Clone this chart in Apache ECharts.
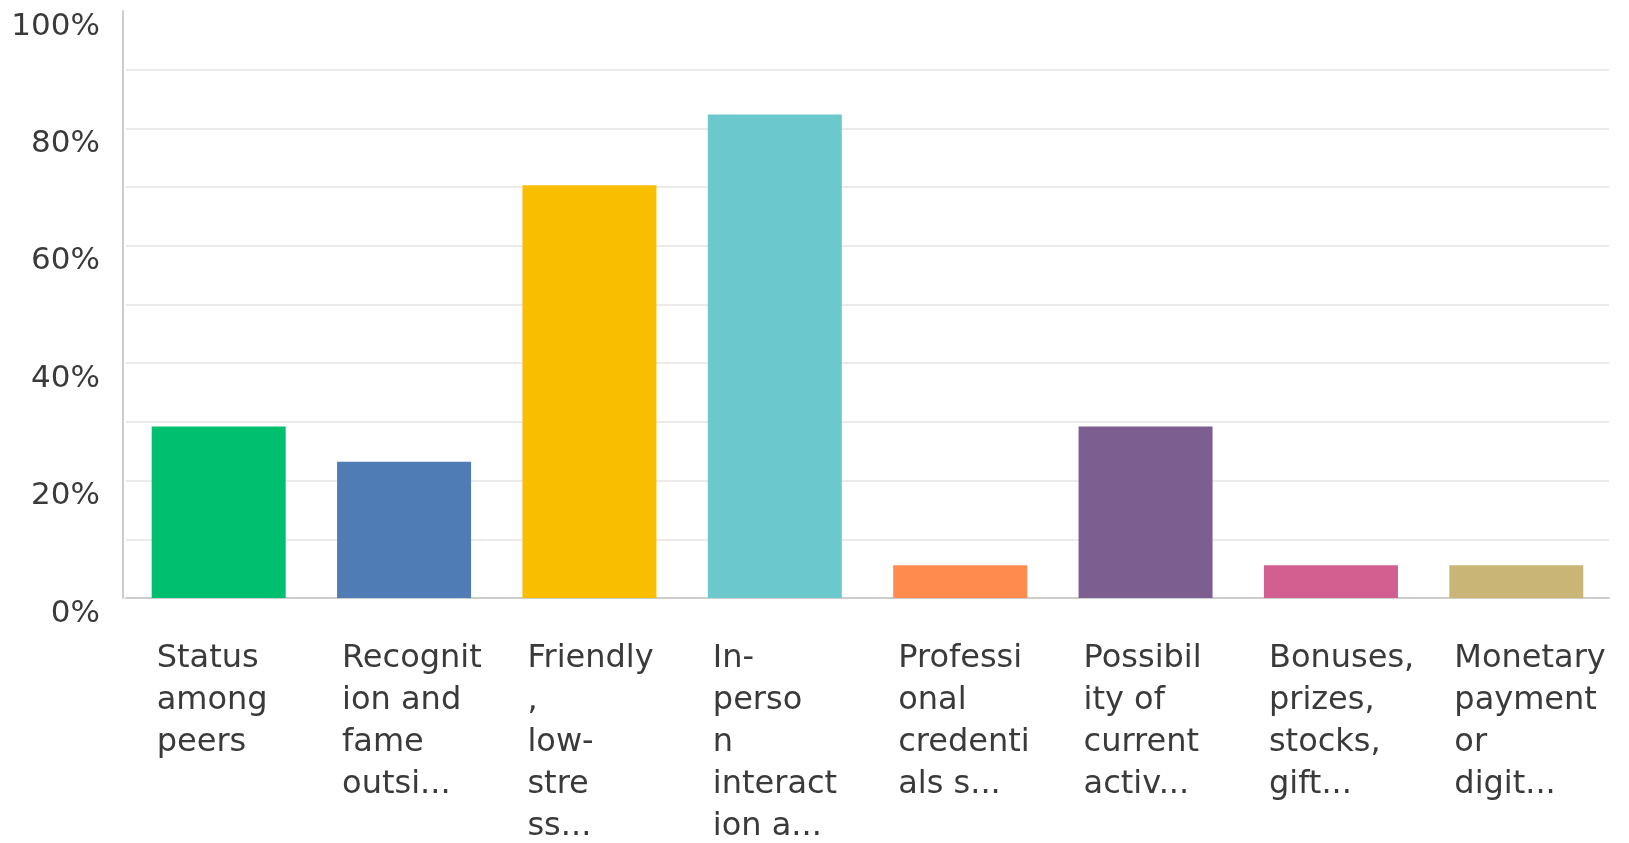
<!DOCTYPE html>
<html><head><meta charset="utf-8">
<script src="https://cdn.jsdelivr.net/npm/echarts@6/dist/echarts.min.js"></script>
<style>html,body{margin:0;padding:0;background:#fff}#c{width:1629px;height:843px}</style>
</head><body><div id="c"></div>
<script>
const categories = [
  "Status\namong\npeers",
  "Recognit\nion and\nfame\noutsi...",
  "Friendly\n,\nlow-\nstre\nss...",
  "In-\nperso\nn\ninteract\nion a...",
  "Professi\nonal\ncredenti\nals s...",
  "Possibil\nity of\ncurrent\nactiv...",
  "Bonuses,\nprizes,\nstocks,\ngift...",
  "Monetary\npayment\nor\ndigit..."
];
const values = [29.2, 23.2, 70.3, 82.35, 5.6, 29.2, 5.6, 5.6];
const colors = ["#00BF6F", "#507CB6", "#F9BE00", "#6BC8CD", "#FF8B4F", "#7D5E90", "#D25F90", "#C9B677"];
const yTicks = [0, 20, 40, 60, 80, 100];

const chart = echarts.init(document.getElementById('c'));
chart.setOption({
  animation: false,
  grid: {left: 126, right: 20, top: 11, bottom: 237},
  xAxis: {
    type: 'category',
    data: categories,
    axisLine: {lineStyle: {color: '#cccccc', width: 2}},
    axisTick: {show: false},
    axisLabel: {
      interval: 0,
      margin: 40,
      width: 124,
      overflow: 'none',
      formatter: v => '{a|' + v.split('\n').join('}\n{a|') + '}',
      rich: {a: {align: 'left', fontFamily: 'DejaVu Sans', fontSize: 32, lineHeight: 42, color: '#3a3a3a'}}
    }
  },
  yAxis: {
    type: 'value',
    min: 0, max: 100, interval: 20,
    offset: 3,
    axisLine: {show: true, lineStyle: {color: '#cccccc', width: 2}},
    axisTick: {show: false},
    axisLabel: {
      formatter: v => yTicks.includes(v) ? v + '%' : '',
      margin: 23,
      verticalAlign: 'top',
      fontFamily: 'DejaVu Sans', fontSize: 31, color: '#3a3a3a'
    },
    splitLine: {show: true, showMaxLine: false, lineStyle: {color: '#ebebeb', width: 2}},
    minorTick: {show: false, splitNumber: 2},
    minorSplitLine: {show: true, lineStyle: {color: '#ebebeb', width: 2}}
  },
  series: [{
    type: 'bar',
    data: values.map((v, i) => ({value: v, itemStyle: {color: colors[i]}})),
    barWidth: 134
  }]
});
</script></body></html>
